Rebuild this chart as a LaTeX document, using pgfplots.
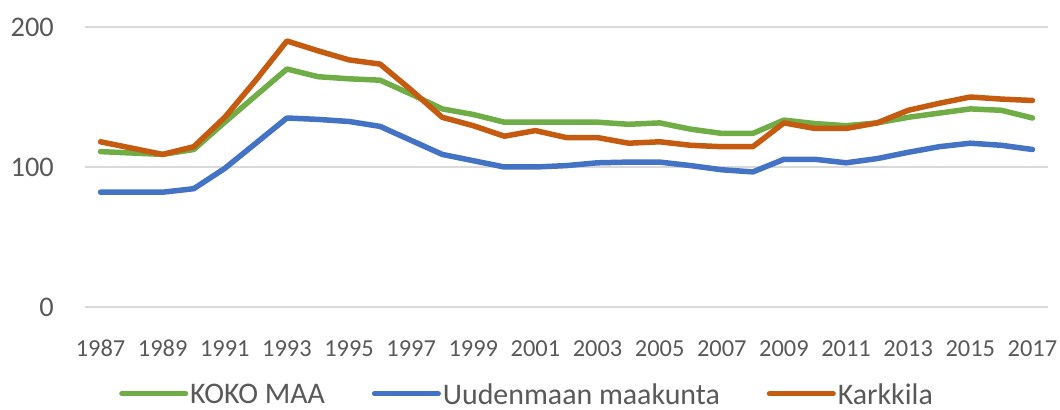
\documentclass[border=0pt]{standalone}
\usepackage{fontspec}
\setmainfont{Carlito}
\usepackage{pgfplots}
\pgfplotsset{compat=1.18}
\definecolor{cgreen}{HTML}{70AD47}
\definecolor{cblue}{HTML}{4472C4}
\definecolor{corange}{HTML}{C55A11}
\definecolor{ctext}{HTML}{595959}
\definecolor{cgrid}{HTML}{D9D9D9}
\begin{document}
\begin{tikzpicture}
\useasboundingbox (-85bp,-103bp) rectangle (975bp,307bp);
\begin{axis}[
  at={(0,0)}, anchor=south west,
  scale only axis, width=963bp, height=280bp,
  xmin=1986.5, xmax=2017.5, ymin=0, ymax=200,
  xtick={1987,1989,...,2017}, ytick={0,100,200},
  axis line style={draw=none}, major tick length=0pt,
  ymajorgrids, grid style={cgrid, line width=1.3bp},
  /pgf/number format/assume math mode=true,
  xticklabel style={/pgf/number format/1000 sep={}, anchor=north, inner sep=0pt, yshift=-33bp, font=\fontsize{24.5}{26}\selectfont, text=ctext},
  yticklabel style={anchor=east, inner sep=0pt, xshift=-31bp, font=\fontsize{28.5}{30}\selectfont, text=ctext},
  every axis plot/.append style={line width=5.5bp, line join=round, line cap=round},
  legend columns=-1,
  legend style={at={(0.459,-0.31)}, anchor=center, draw=none, inner sep=0pt,
    font=\fontsize{30}{32}\selectfont, text=ctext,
    nodes={text depth=0pt},
    /tikz/every even column/.append style={column sep=45bp}},
  legend image code/.code={\draw[#1, line width=5bp, line cap=round] (0bp,0bp) -- (64bp,0bp);},
  legend cell align=left,
]
\addplot[cgreen] coordinates {
(1987,111) (1988,110) (1989,109) (1990,112.5) (1991,132) (1992,151) (1993,170) (1994,164.5) (1995,163) (1996,162)
(1997,152) (1998,141.5) (1999,137.5) (2000,132) (2001,132) (2002,132) (2003,132) (2004,130.5) (2005,131.5) (2006,127)
(2007,124) (2008,124) (2009,133.5) (2010,131) (2011,129.5) (2012,131.5) (2013,135.5) (2014,138.5) (2015,141.5) (2016,140.5) (2017,135)};
\addlegendentry{KOKO MAA}
\addplot[cblue] coordinates {
(1987,82) (1988,82) (1989,82) (1990,84.5) (1991,99) (1992,117) (1993,135) (1994,134) (1995,132.5) (1996,129)
(1997,119) (1998,109) (1999,104.5) (2000,100) (2001,100) (2002,101) (2003,103) (2004,103.5) (2005,103.5) (2006,101)
(2007,98) (2008,96.5) (2009,105.5) (2010,105.5) (2011,103) (2012,106) (2013,110.5) (2014,114.5) (2015,117) (2016,115.5) (2017,112.5)};
\addlegendentry{Uudenmaan maakunta}
\addplot[corange] coordinates {
(1987,118) (1988,113.5) (1989,109) (1990,114.5) (1991,135.5) (1992,162) (1993,190) (1994,183) (1995,176.5) (1996,173.5)
(1997,155) (1998,135.5) (1999,129.5) (2000,122) (2001,126) (2002,121) (2003,121) (2004,117) (2005,118) (2006,115.5)
(2007,114.5) (2008,114.5) (2009,131.5) (2010,127.5) (2011,127.5) (2012,131.5) (2013,140.5) (2014,145.5) (2015,150) (2016,148.5) (2017,147.5)};
\addlegendentry{Karkkila}
\end{axis}
\end{tikzpicture}
\end{document}
